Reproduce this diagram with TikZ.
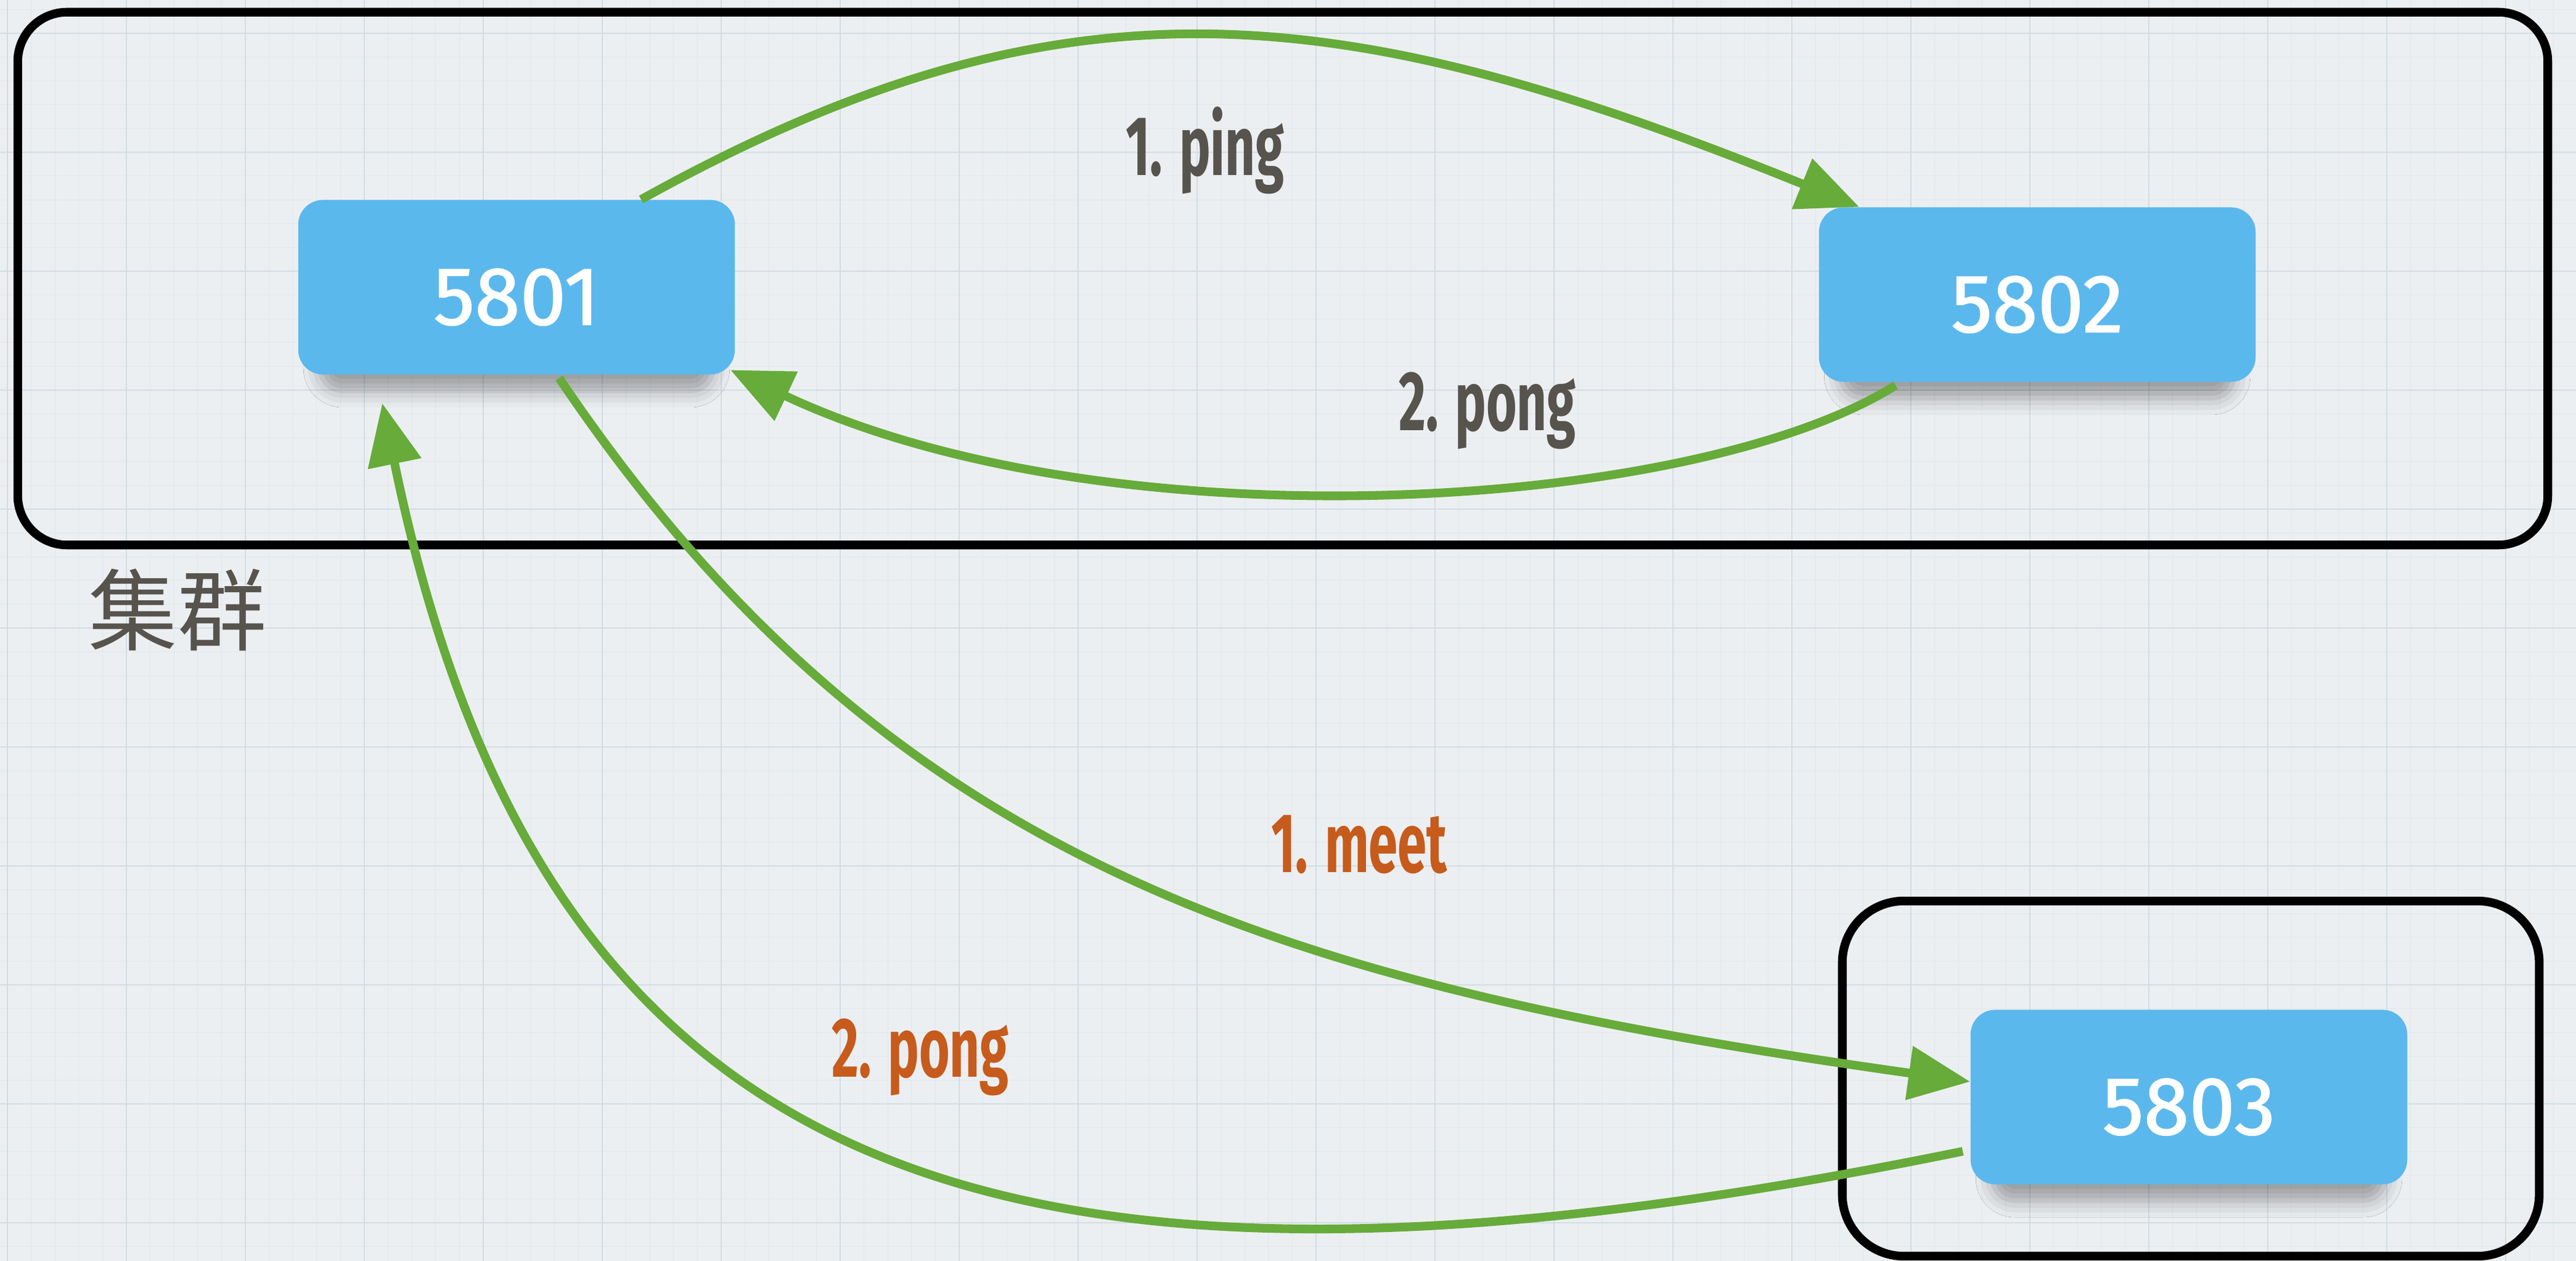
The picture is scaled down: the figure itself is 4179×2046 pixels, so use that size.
\documentclass[tikz,border=0pt]{standalone}
\usepackage{fontspec}
\newfontfamily\numfont{Fira Sans}[FakeBold=1.3]
\newfontfamily\labelfont{Fira Sans}[FakeStretch=0.62]
\newfontfamily\cjkfont{Noto Sans CJK SC}
\usetikzlibrary{arrows.meta,calc,shadows.blur}
\definecolor{paper}{RGB}{236,239,242}
\definecolor{gridmajor}{RGB}{210,221,226}
\definecolor{gridminor}{RGB}{226,231,234}
\definecolor{boxblue}{RGB}{91,184,237}
\definecolor{arrowgreen}{RGB}{103,171,58}
\definecolor{talkgrey}{RGB}{87,83,77}
\definecolor{meetorange}{RGB}{198,91,28}
\tikzset{
    server/.style={fill=boxblue, rounded corners=0.4cm, minimum width=7.08cm, minimum height=2.83cm,
        inner sep=0pt, text=white, text height=1.23cm, font=\numfont\fontsize{38}{40}\selectfont,
        blur shadow={shadow xshift=0pt, shadow yshift=-0.45cm, shadow opacity=35, shadow scale=0.9,
            shadow blur radius=0.3cm}},
    group/.style={draw=black, line width=4pt, rounded corners=0.8cm, inner sep=0pt},
    flow/.style={draw=arrowgreen, line width=4pt, -{Triangle[length=1cm,width=0.85cm]}},
    talk/.style={font=\labelfont\bfseries\fontsize{39}{42}\selectfont, text=talkgrey},
}
\begin{document}
\begin{tikzpicture}[x=0.01cm, y=-0.01cm]
            \useasboundingbox (0,0) rectangle (4179,2046);
            \fill[paper] (0,0) rectangle (4179,2046);
            \foreach \gx in {12,50.6,...,4179}
                \draw[gridminor, line width=0.3pt] (\gx,0) -- (\gx,2046);
            \foreach \gy in {15.4,54,...,2046}
                \draw[gridminor, line width=0.3pt] (0,\gy) -- (4179,\gy);
            \foreach \gx in {12,205,...,4179}
                \draw[gridmajor, line width=0.6pt] (\gx,0) -- (\gx,2046);
            \foreach \gy in {54,247,...,2046}
                \draw[gridmajor, line width=0.6pt] (0,\gy) -- (4179,\gy);

            \node[group, minimum width=41.02cm, minimum height=8.64cm] (cluster) at (2081,452) {};
            \node[group, minimum width=11.3cm, minimum height=5.76cm, rounded corners=1cm] (solo) at (3554,1750) {};
            \node[server] (p5801) at (838,466) {5801};
            \node[server] (p5802) at (3305,478) {5802};
            \node[server] (p5803) at (3551,1780) {5803};
            \node[font=\cjkfont\fontsize{41}{44}\selectfont, text=talkgrey] (name) at (288,990) {集群};

            \draw[flow] ($(p5801.north)+(202,0)$) .. controls (1730,-60) and (2183,-1) .. ($(p5802.north west)+(66,0)$);
            \draw[flow] ($(p5802.south west)+(125,5)$) .. controls (2750,830) and (1800,890) .. ($(p5801.south east)+(-8,-8)$);
            \draw[flow] ($(p5801.south)+(69,5)$) .. controls (1450,1420) and (2107,1601) .. ($(p5803.west)+(0,-25)$);
            \draw[flow] ($(p5803.west)+(-12,88)$) .. controls (1617,2188) and (882,1928) .. ($(p5801.south west)+(137,46)$);

            \node[talk] (ping) at (1955,244) {1. ping};
            \node[talk] (pong) at (2413,666) {2. pong};
            \node[talk, text=meetorange] (meet) at (2205,1370) {1. meet};
            \node[talk, text=meetorange] (reply) at (1493,1715) {2. pong};
\end{tikzpicture}
\end{document}
